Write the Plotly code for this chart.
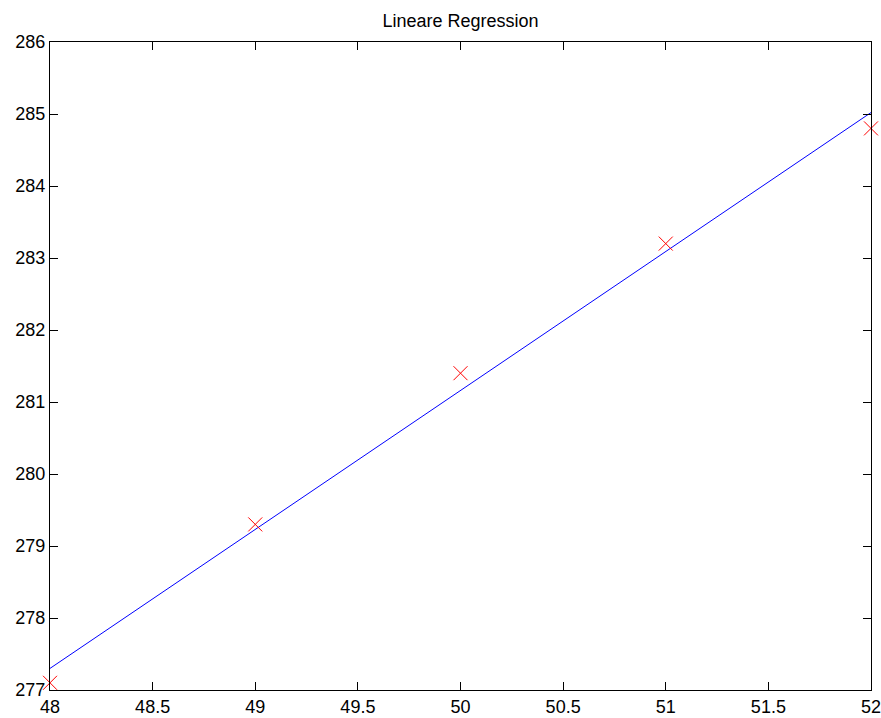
import plotly.graph_objects as go

x_data = [48, 49, 50, 51, 52]
y_data = [277.1, 279.3, 281.4, 283.2, 284.8]
fit_x = [48, 52]
fit_y = [277.30, 285.02]
x_ticks = [48, 48.5, 49, 49.5, 50, 50.5, 51, 51.5, 52]
x_ticktext = ["48", "48.5", "49", "49.5", "50", "50.5", "51", "51.5", "52"]
y_ticks = [277, 278, 279, 280, 281, 282, 283, 284, 285, 286]

fig = go.Figure()
fig.add_trace(go.Scatter(x=fit_x, y=fit_y, mode="lines",
                         line=dict(color="#0000ff", width=1), showlegend=False))
fig.add_trace(go.Scatter(x=x_data, y=y_data, mode="markers",
                         marker=dict(symbol="x-thin", size=14, color="#ff0000",
                                     line=dict(color="#ff0000", width=1)),
                         cliponaxis=False, showlegend=False))

axis_common = dict(showgrid=False, zeroline=False, showline=True, linecolor="black",
                   linewidth=1, mirror="ticks", ticks="inside", ticklen=8,
                   tickcolor="black", tickwidth=1, automargin=False,
                   ticklabeloverflow="allow",
                   tickfont=dict(family="Liberation Sans, Arial, sans-serif",
                                 size=18, color="black"))

fig.update_layout(
    width=881, height=718,
    margin=dict(l=50, r=10, t=42, b=28, autoexpand=False),
    paper_bgcolor="white", plot_bgcolor="white",
    title=dict(text="Lineare Regression", x=(50 + 460.5) / 2 / 440.5 * 0 + 460.5 / 881,
               xanchor="center", y=1 - 21 / 718,
               yanchor="middle", automargin=False,
               font=dict(family="Liberation Sans, Arial, sans-serif", size=18, color="black")),
    xaxis=dict(range=[48, 52], tickvals=x_ticks, ticktext=x_ticktext, **axis_common),
    yaxis=dict(range=[277, 286], tickvals=y_ticks, **axis_common),
)

fig.write_html("out.html")
